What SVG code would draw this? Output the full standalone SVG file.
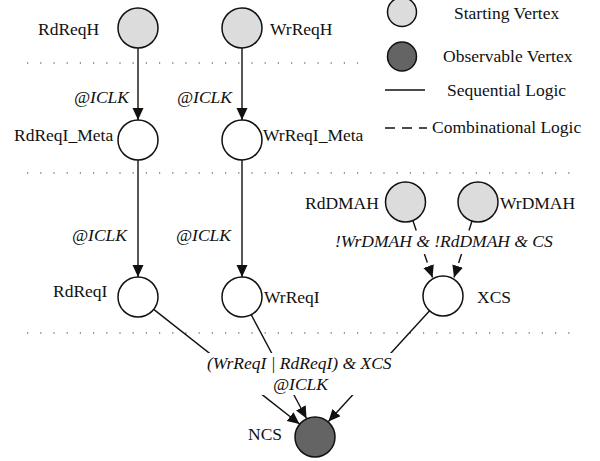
<svg xmlns="http://www.w3.org/2000/svg" width="600" height="461" viewBox="0 0 600 461">
<defs>
<style>
text{font-family:"Liberation Serif","Times New Roman",serif;font-size:17.5px;fill:#111}
.it{font-style:italic}
.start{fill:#dcdcdc;stroke:#111;stroke-width:1.5}
.obs{fill:#646464;stroke:#111;stroke-width:1.5}
.plain{fill:#fff;stroke:#111;stroke-width:1.5}
.seq{stroke:#111;stroke-width:1.4;fill:none}
.comb{stroke:#111;stroke-width:1.4;fill:none;stroke-dasharray:10 7}
.dots{stroke:#333;stroke-width:1.2;stroke-dasharray:1.2 12}
.bg{fill:#fff}
</style>
<marker id="ah" markerUnits="userSpaceOnUse" markerWidth="13" markerHeight="12" refX="12" refY="5.5" orient="auto">
<path d="M0,0 L12,5.5 L0,11 z" fill="#111"/>
</marker>
</defs>
<rect width="600" height="461" fill="#fff"/>
<g id="separators">
<line class="dots" x1="27" y1="63" x2="358" y2="63"/>
<line class="dots" x1="27" y1="173" x2="570" y2="173"/>
<line class="dots" x1="27" y1="333" x2="570" y2="333"/>
</g>
<g id="connectors">
<line class="seq" x1="138" y1="48" x2="138" y2="120" marker-end="url(#ah)"/>
<line class="seq" x1="242" y1="48" x2="242" y2="120" marker-end="url(#ah)"/>
<line class="seq" x1="138" y1="160" x2="138" y2="277" marker-end="url(#ah)"/>
<line class="seq" x1="242" y1="160" x2="242" y2="277" marker-end="url(#ah)"/>
<line class="comb" x1="413" y1="221" x2="432.5" y2="277.5" marker-end="url(#ah)"/>
<line class="comb" x1="472" y1="221" x2="454" y2="277.5" marker-end="url(#ah)"/>
<line class="seq" x1="153.7" y1="309.4" x2="299.5" y2="424" marker-end="url(#ah)"/>
<line class="seq" x1="251.2" y1="314.7" x2="306.5" y2="418.5" marker-end="url(#ah)"/>
<line class="seq" x1="429.6" y1="310.8" x2="328.4" y2="421.5" marker-end="url(#ah)"/>
<rect class="bg" x="333" y="235" width="228" height="19"/>
<rect class="bg" x="205" y="353" width="194" height="42"/>
<text class="it" x="335" y="247">!WrDMAH &amp; !RdDMAH &amp; CS</text>
<text class="it" x="207" y="369">(WrReqI | RdReqI) &amp; XCS</text>
<text class="it" x="273" y="390">@ICLK</text>
<text class="it" x="74" y="103">@ICLK</text>
<text class="it" x="177" y="103">@ICLK</text>
<text class="it" x="72" y="241">@ICLK</text>
<text class="it" x="176" y="241">@ICLK</text>
</g>
<g id="RdReqH"><circle class="start" cx="138" cy="28" r="20"/><text x="38" y="35">RdReqH</text></g>
<g id="WrReqH"><circle class="start" cx="242" cy="28" r="20"/><text x="270" y="35">WrReqH</text></g>
<g id="RdReqI_Meta"><circle class="plain" cx="138" cy="140" r="20"/><text x="14" y="141">RdReqI_Meta</text></g>
<g id="WrReqI_Meta"><circle class="plain" cx="242" cy="140" r="20"/><text x="263" y="141">WrReqI_Meta</text></g>
<g id="RdReqI"><circle class="plain" cx="138" cy="297" r="20"/><text x="53" y="297">RdReqI</text></g>
<g id="WrReqI"><circle class="plain" cx="242" cy="297" r="20"/><text x="264" y="303">WrReqI</text></g>
<g id="RdDMAH"><circle class="start" cx="405.5" cy="202" r="20"/><text x="305" y="209">RdDMAH</text></g>
<g id="WrDMAH"><circle class="start" cx="478" cy="202" r="20"/><text x="500" y="209">WrDMAH</text></g>
<g id="XCS"><circle class="plain" cx="443" cy="296" r="20"/><text x="477" y="303">XCS</text></g>
<g id="NCS"><circle class="obs" cx="315" cy="437" r="20"/><text x="248" y="440">NCS</text></g>
<g id="legend">
<circle class="start" cx="402" cy="12" r="14.5"/>
<text x="454" y="19">Starting Vertex</text>
<circle class="obs" cx="402" cy="56.5" r="14.5"/>
<text x="443" y="62">Observable Vertex</text>
<line class="seq" x1="385" y1="90" x2="425" y2="90"/>
<text x="447" y="96">Sequential Logic</text>
<line class="comb" x1="385" y1="128" x2="427" y2="128"/>
<text x="432" y="133">Combinational Logic</text>
</g>
</svg>
